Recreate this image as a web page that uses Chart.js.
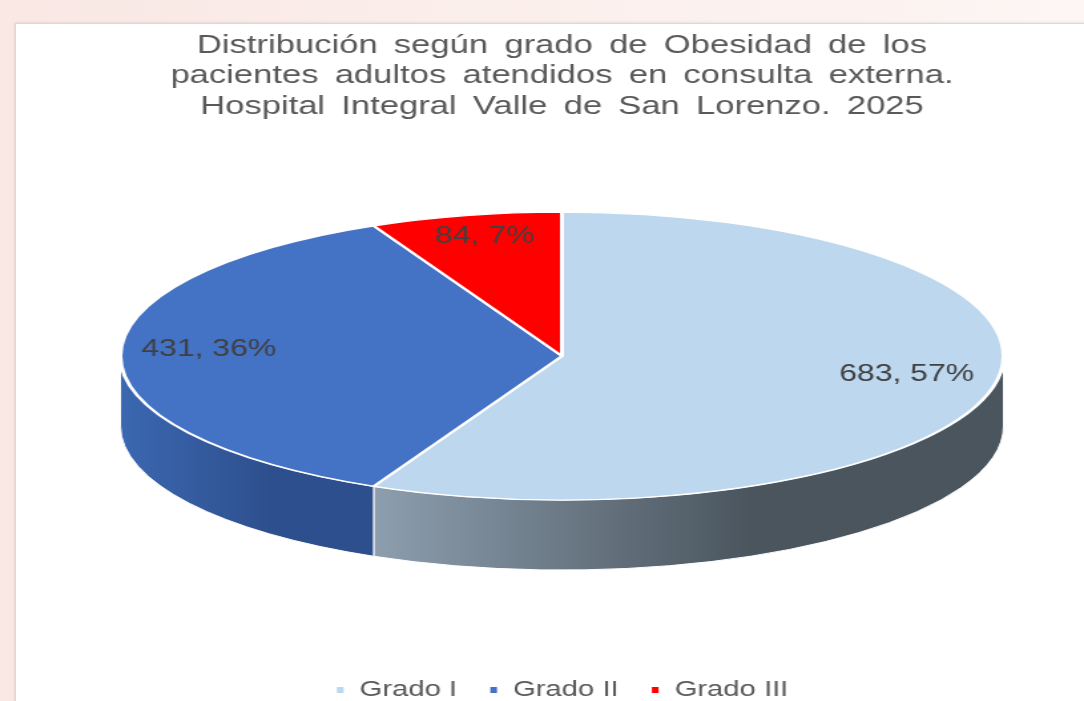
<!DOCTYPE html>
<html>
<head>
<meta charset="utf-8">
<script src="https://cdn.jsdelivr.net/npm/chart.js@4.4.1/dist/chart.umd.min.js"></script>
<style>
html, body { margin: 0; padding: 0; width: 1084px; height: 701px; overflow: hidden; background: linear-gradient(90deg, #f9e8e4, #fdf6f4); }
#panel { position: absolute; left: 15px; top: 23px; width: 1100px; height: 700px; background: #fff; border: 1px solid #d9d9d9; box-shadow: 0 0 3px rgba(0,0,0,0.12); overflow: hidden; }
#stretch { transform: scaleX(1.33); transform-origin: 0 0; }
canvas { display: block; }
</style>
</head>
<body>
<div id="panel"><div id="stretch"><canvas id="myChart" width="821" height="700"></canvas></div></div>
<script>
// datos
var categorias = ["Grado I", "Grado II", "Grado III"];
var pacientes = [683, 431, 84];
var titulo = [
	"Distribución según grado de Obesidad de los",
	"pacientes adultos atendidos en consulta externa.",
	"Hospital Integral Valle de San Lorenzo. 2025"
];

// estilos
var colores = ["#bdd7ee", "#4472c4", "#ff0000"];
var coloresLado = [["#8d9eae", "#4a555e"], ["#3b68b1", "#2e4f8d"], ["#cc0000", "#990000"]];
var RX = 332, RY = 144, PROF = 70;
var fuente = "'Liberation Sans', Arial, sans-serif";

function geometria(chart) {
	var arc0 = chart.getDatasetMeta(0).data[0];
	return { arc0: arc0, cx: arc0.x, cy: chart.chartArea.top + RY };
}

var pie3d = {
	id: 'pie3d',
	afterLayout: function (chart) {
		// la leyenda sin el espacio extra del titulo
		var leyenda = chart.legend;
		if (leyenda && !leyenda._sinEspacio) {
			var dibujar = leyenda.draw;
			leyenda.draw = function () {
				var antes = chart.ctx.wordSpacing;
				chart.ctx.wordSpacing = '0px';
				dibujar.apply(this, arguments);
				chart.ctx.wordSpacing = antes;
			};
			leyenda._sinEspacio = true;
		}
	},
	beforeDraw: function (chart) {
		// el titulo va con mas espacio entre palabras
		chart.ctx.wordSpacing = '5px';
	},
	beforeDatasetsDraw: function (chart) {
		var ctx = chart.ctx;
		ctx.wordSpacing = '0px';
		var g = geometria(chart);
		var meta = chart.getDatasetMeta(0);

		// lado (espesor) de la torta
		meta.data.forEach(function (arc, i) {
			[0, 2 * Math.PI].forEach(function (k) {
				var t1 = Math.max(arc.startAngle, k);
				var t2 = Math.min(arc.endAngle, k + Math.PI);
				if (t2 <= t1) return;
				var x1 = g.cx + RX * Math.cos(t2);
				var x2 = g.cx + RX * Math.cos(t1);
				var grad = ctx.createLinearGradient(x1, 0, x2, 0);
				grad.addColorStop(0, coloresLado[i][0]);
				grad.addColorStop(0.6, coloresLado[i][1]);
				grad.addColorStop(1, coloresLado[i][1]);
				ctx.save();
				ctx.beginPath();
				ctx.ellipse(g.cx, g.cy, RX, RY, 0, t1, t2, false);
				ctx.ellipse(g.cx, g.cy + PROF, RX, RY, 0, t2, t1, true);
				ctx.closePath();
				ctx.fillStyle = grad;
				ctx.fill();
				ctx.strokeStyle = "#ffffff";
				ctx.lineWidth = 1;
				ctx.stroke();
				ctx.restore();
			});
		});

		// cara superior: se achata con la escala
		var r = g.arc0.outerRadius;
		ctx.save();
		ctx.translate(g.cx, g.cy);
		ctx.scale(RX / r, RY / r);
		ctx.translate(-g.arc0.x, -g.arc0.y);
	},
	afterDatasetsDraw: function (chart) {
		var ctx = chart.ctx;
		ctx.restore();

		var g = geometria(chart);
		var meta = chart.getDatasetMeta(0);
		var total = pacientes.reduce(function (a, b) { return a + b; }, 0);

		// etiquetas
		ctx.save();
		ctx.font = "24px " + fuente;
		ctx.fillStyle = "#404040";
		ctx.textAlign = "center";
		ctx.textBaseline = "middle";
		meta.data.forEach(function (arc, i) {
			var medio = (arc.startAngle + arc.endAngle) / 2;
			var x = g.cx + 0.8 * RX * Math.cos(medio);
			var y = g.cy - 7 + 0.8 * RY * Math.sin(medio);
			var pct = Math.round(pacientes[i] / total * 100);
			ctx.fillText(pacientes[i] + ", " + pct + "%", x, y);
		});
		ctx.restore();
	}
};

var ctx = document.getElementById("myChart").getContext('2d');
var myChart = new Chart(ctx, {
	type: 'pie',
	data: {
		labels: categorias,
		datasets: [{
			data: pacientes,
			backgroundColor: colores,
			borderColor: '#ffffff',
			borderWidth: 2,
			clip: false
		}]
	},
	options: {
		responsive: false,
		animation: false,
		layout: { padding: { bottom: 13 } },
		plugins: {
			title: {
				display: true,
				text: titulo,
				color: '#595959',
				font: { size: 26, family: fuente, weight: 'normal', lineHeight: 1.18 },
				padding: { top: 6, bottom: 90 }
			},
			legend: {
				position: 'bottom',
				labels: {
					color: '#595959',
					font: { size: 22, family: fuente },
					boxWidth: 7,
					boxHeight: 8,
					padding: 24
				}
			},
			tooltip: { enabled: false }
		}
	},
	plugins: [pie3d]
});
</script>
</body>
</html>
